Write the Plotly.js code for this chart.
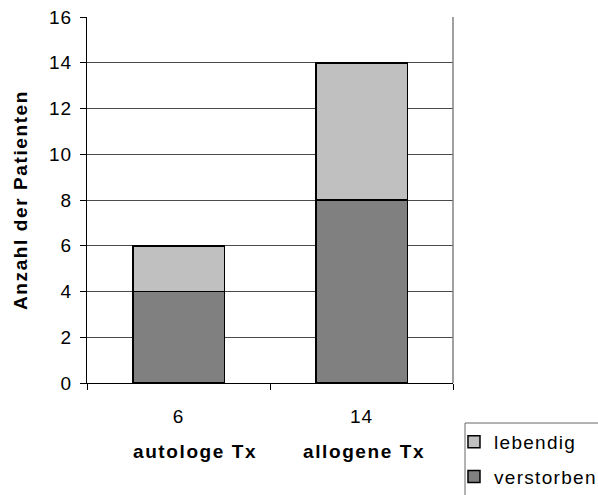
<!DOCTYPE html>
<html>
<head>
<meta charset="utf-8">
<script src="https://cdn.plot.ly/plotly-3.0.1.min.js"></script>
<style>
  html, body { margin: 0; padding: 0; background: #fff; }
  #chart { width: 598px; height: 495px; }
  .ytick text, .xtick text { letter-spacing: 1px; }
  .legendtext { letter-spacing: 1.3px; }
  .ytitle, .annotation-text { letter-spacing: 1.6px; }
</style>
</head>
<body>
<div id="chart"></div>
<script>
// Patients per transplant type, split by outcome
const categories = ["autologe Tx", "allogene Tx"];
const verstorben = [4, 8];
const lebendig = [2, 6];
const totals = categories.map((_, i) => verstorben[i] + lebendig[i]);
const yTicks = [0, 2, 4, 6, 8, 10, 12, 14, 16];

// horizontal nudge (px) of the bold category captions
const captionShift = [16, 2];

const FONT = "Liberation Sans, Arial, sans-serif";

const traces = [
  {
    type: "bar",
    name: "verstorben",
    legendgroup: "v",
    legendrank: 2,
    x: categories,
    y: verstorben,
    marker: { color: "#808080", line: { color: "#000000", width: 1.5 } },
    hoverinfo: "skip"
  },
  {
    type: "bar",
    name: "lebendig",
    legendgroup: "l",
    legendrank: 1,
    x: categories,
    y: lebendig,
    marker: { color: "#C0C0C0", line: { color: "#000000", width: 1.5 } },
    hoverinfo: "skip"
  }
];

const layout = {
  width: 598,
  height: 495,
  margin: { l: 87, r: 145, t: 17, b: 112, autoexpand: false },
  paper_bgcolor: "#ffffff",
  plot_bgcolor: "#ffffff",
  barmode: "stack",
  bargap: 0.5,
  font: { family: FONT, size: 19, color: "#000000" },
  xaxis: {
    type: "category",
    tickmode: "array",
    tickvals: categories,
    ticktext: totals.map(String),
    tickson: "boundaries",
    ticks: "outside",
    ticklen: 6,
    tickcolor: "#000000",
    showline: true,
    linecolor: "#000000",
    linewidth: 1,
    showgrid: false,
    zeroline: false,
    automargin: false,
    ticklabelstandoff: 16,
    tickfont: { family: FONT, size: 19 }
  },
  yaxis: {
    range: [0, 16],
    tickmode: "array",
    tickvals: yTicks,
    ticks: "outside",
    ticklen: 6,
    tickcolor: "#000000",
    showline: true,
    linecolor: "#000000",
    linewidth: 1,
    showgrid: true,
    gridcolor: "#4a4a4a",
    gridwidth: 1,
    zeroline: false,
    automargin: false,
    ticklabelstandoff: 4,
    tickfont: { family: FONT, size: 19 },
    title: {
      text: "<b>Anzahl der Patienten</b>",
      font: { family: FONT, size: 19 },
      standoff: 16
    }
  },
  shapes: [
    // right edge of the plot frame
    {
      type: "line", xref: "paper", yref: "paper",
      x0: 1, x1: 1, y0: 0, y1: 1,
      line: { color: "#808080", width: 1.5 }
    },
    // legend frame
    {
      type: "rect", xref: "paper", yref: "paper",
      x0: 1.0328, x1: 1.43, y0: -0.1093, y1: -0.35,
      line: { color: "#666666", width: 1 },
      fillcolor: "rgba(0,0,0,0)"
    }
  ],
  annotations: categories.map((c, i) => ({
    x: c, xref: "x",
    y: -0.1885, yref: "paper",
    yanchor: "middle",
    xshift: captionShift[i],
    text: "<b>" + c + "</b>",
    showarrow: false,
    font: { family: FONT, size: 19 }
  })),
  showlegend: true,
  legend: {
    x: 1.0027, xanchor: "left",
    y: -0.109, yanchor: "top",
    borderwidth: 0,
    bgcolor: "rgba(0,0,0,0)",
    traceorder: "grouped",
    tracegroupgap: 7,
    font: { family: FONT, size: 19 }
  }
};

Plotly.newPlot("chart", traces, layout, { displayModeBar: false, staticPlot: true });
</script>
</body>
</html>
